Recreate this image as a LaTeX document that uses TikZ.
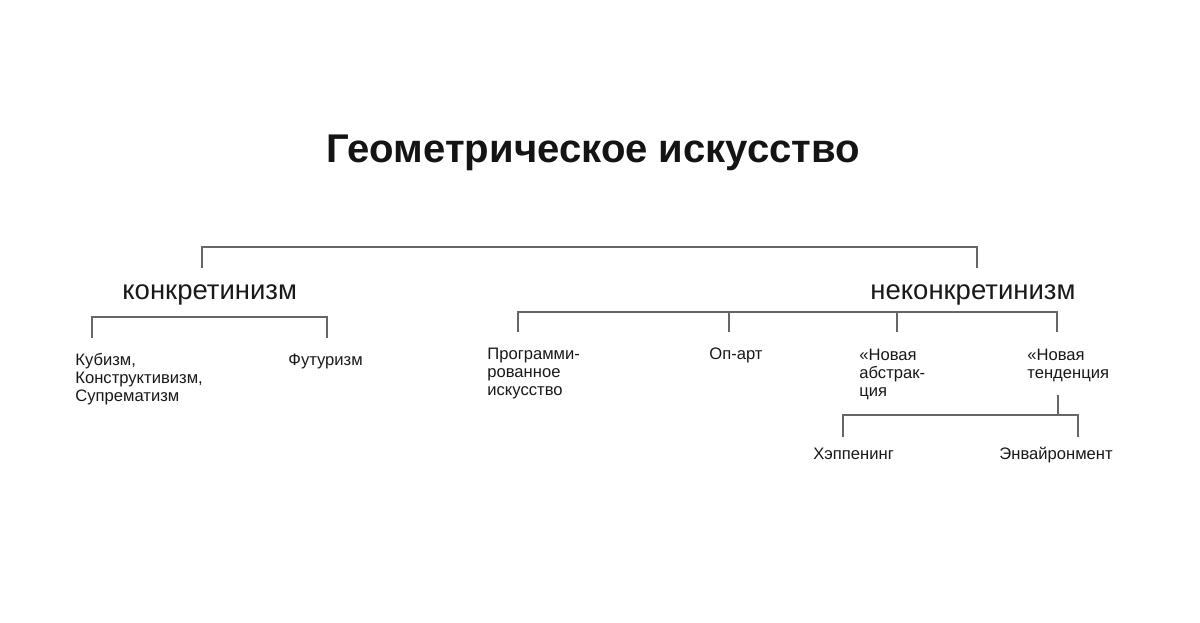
\documentclass[tikz,border=0pt]{standalone}
\usepackage{fontspec}
\setmainfont{Liberation Sans}
\newcommand{\topstrut}{\rule{0pt}{7pt}}
\begin{document}
\begin{tikzpicture}[x=0.5pt,y=-0.5pt,
  conn/.style={draw=black!60,line width=0.55pt},
  leaf/.style={anchor=north west,inner sep=0pt,align=left,text=black!90,
    font=\fontsize{8.3pt}{9pt}\selectfont},
  branch/.style={anchor=base west,inner sep=0pt,text=black!90,
    font=\fontsize{13.75pt}{16pt}\selectfont},
  titlestyle/.style={anchor=base,inner sep=0pt,text=black!92,
    font=\fontsize{20.05pt}{24pt}\selectfont\bfseries}]
\useasboundingbox (0,0) rectangle (1200,622);
\fill[white] (0,0) rectangle (1200,622);

% title
\node[titlestyle] (title) at (593.5,162) {Геометрическое искусство};

% branches
\node[branch] (konk) at (122,299) {конкретинизм};
\node[branch] (nekonk) at (870,299) {неконкретинизм};

% leaves (top of node = baseline - 14px, i.e. cap top - 2px)
\node[leaf] (kub) at (75,351) {\topstrut Кубизм,\\Конструктивизм,\\Супрематизм};
\node[leaf] (fut) at (288,351) {\topstrut Футуризм};
\node[leaf] (prog) at (487,345.5) {\topstrut Программи-\\рованное\\искусство};
\node[leaf] (op) at (709,345.5) {\topstrut Оп-арт};
\node[leaf] (abs) at (859,346) {\topstrut «Новая\\абстрак-\\ция};
\node[leaf] (tend) at (1027,346) {\topstrut «Новая\\тенденция};
\node[leaf] (hap) at (813,445.5) {\topstrut Хэппенинг};
\node[leaf] (env) at (999,445.5) {\topstrut Энвайронмент};

% bracket end points
\coordinate (t1) at (202,268);
\coordinate (t2) at (977,268);
\coordinate (k1) at (92,338);
\coordinate (k2) at (327,338);
\coordinate (n1) at (518,332);
\coordinate (n2) at (729,332);
\coordinate (n3) at (897,332);
\coordinate (n4) at (1057,332);
\coordinate (tendb) at (1058,395);
\coordinate (s1) at (843,437);
\coordinate (s2) at (1078,437);

% connectors
\draw[conn] (t1) -- ++(0,-21) -| (t2);
\draw[conn] (k1) -- ++(0,-21) -| (k2);
\draw[conn] (n1) -- ++(0,-20) -| (n4);
\draw[conn] (n2) -- ++(0,-20);
\draw[conn] (n3) -- ++(0,-20);
\draw[conn] (tendb) -- ++(0,20);
\draw[conn] (s1) -- ++(0,-22) -| (s2);
\end{tikzpicture}
\end{document}
